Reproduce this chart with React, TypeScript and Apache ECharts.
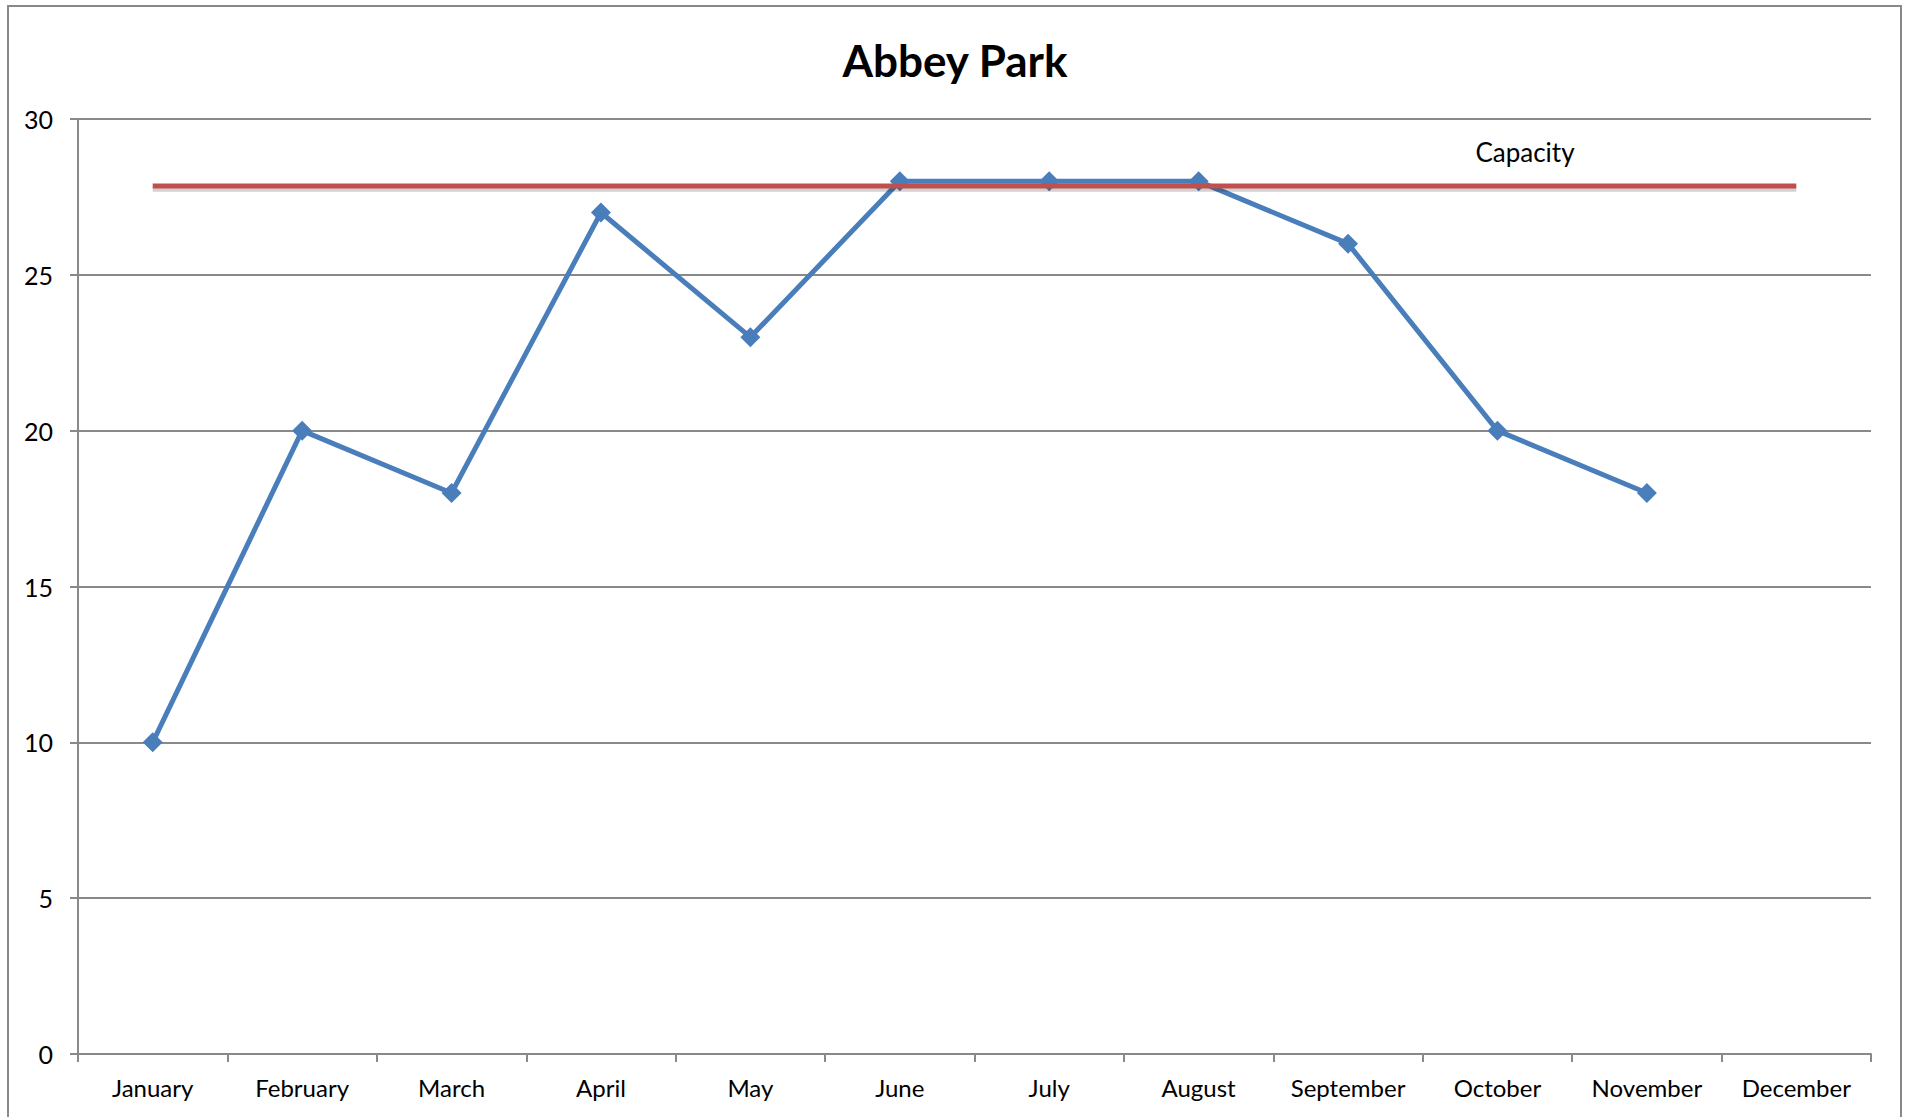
import React, { useEffect, useRef } from "react";
import * as echarts from "echarts";

const months = [
  "January", "February", "March", "April", "May", "June",
  "July", "August", "September", "October", "November", "December",
];
const occupancy: (number | null)[] = [10, 20, 18, 27, 23, 28, 28, 28, 26, 20, 18, null];
const capacityValue = 27.85;
const capacity: number[] = months.map(() => capacityValue);
const capacityShadow: number[] = months.map(() => capacityValue - 0.09);
const yTicks = { min: 0, max: 30, interval: 5 };

const FONT = "Lato, 'Open Sans', sans-serif";
const GREY = "#898989";

export default function App() {
  const ref = useRef<HTMLDivElement>(null);
  useEffect(() => {
    if (!ref.current) return;
    const chart = echarts.init(ref.current, undefined, { renderer: "svg" });
    chart.setOption({
      animation: false,
      backgroundColor: "#ffffff",
      title: {
        text: "Abbey Park",
        left: "center",
        top: 33,
        textStyle: { fontFamily: FONT, fontWeight: "bold", fontSize: 44, color: "#000" },
      },
      grid: { left: 78, right: 39, top: 119, bottom: 63 },
      xAxis: {
        type: "category",
        data: months,
        boundaryGap: true,
        axisLine: { show: true, lineStyle: { color: GREY, width: 2 } },
        axisTick: { show: true, length: 8, lineStyle: { color: GREY, width: 2 } },
        axisLabel: { color: "#000", fontFamily: FONT, fontSize: 24, margin: 21 },
        splitLine: { show: false },
      },
      yAxis: {
        type: "value",
        min: yTicks.min,
        max: yTicks.max,
        interval: yTicks.interval,
        axisLine: { show: true, lineStyle: { color: GREY, width: 2 } },
        axisTick: { show: true, length: 8, lineStyle: { color: GREY, width: 2 } },
        axisLabel: { color: "#000", fontFamily: FONT, fontSize: 25, margin: 25 },
        splitLine: { show: true, lineStyle: { color: GREY, width: 2 } },
      },
      graphic: [
        {
          type: "rect",
          shape: { x: 8, y: 6, width: 1893, height: 1130 },
          style: { fill: "none", stroke: GREY, lineWidth: 2 },
          silent: true,
        },
        {
          type: "text",
          x: 1525,
          y: 152,
          style: {
            text: "Capacity",
            fontFamily: FONT,
            fontSize: 26,
            fill: "#000",
            textAlign: "center",
            textVerticalAlign: "middle",
          },
          z: 10,
        },
      ],
      series: [
        {
          name: "Occupancy",
          type: "line",
          data: occupancy,
          symbol: "diamond",
          symbolSize: 20,
          itemStyle: { color: "#4A7EBB" },
          lineStyle: { color: "#4A7EBB", width: 5 },
          z: 2,
        },
        {
          name: "Capacity shadow",
          type: "line",
          data: capacityShadow,
          symbol: "none",
          silent: true,
          lineStyle: { color: "rgba(0,0,0,0.18)", width: 6 },
          z: 3,
        },
        {
          name: "Capacity",
          type: "line",
          data: capacity,
          symbol: "none",
          lineStyle: { color: "#C0504D", width: 5 },
          z: 4,
        },
      ],
    });
    return () => chart.dispose();
  }, []);
  return (
    <div
      ref={ref}
      style={{ position: "absolute", left: 0, top: 0, width: 1910, height: 1117 }}
    />
  );
}
